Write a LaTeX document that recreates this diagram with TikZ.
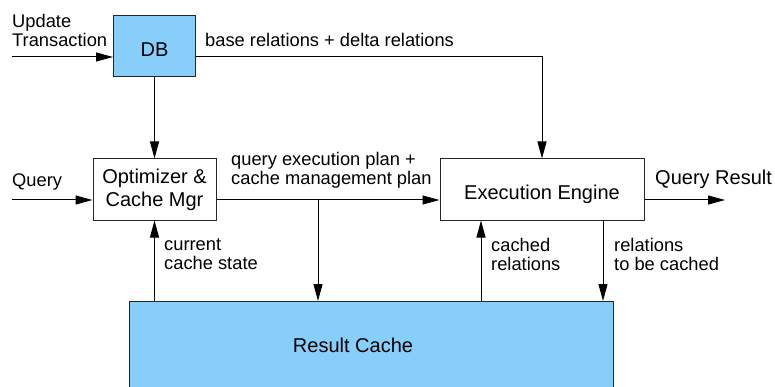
\documentclass[tikz,border=0pt]{standalone}
\usepackage{fontspec}
\setmainfont{Liberation Sans}
\usetikzlibrary{arrows.meta}
\definecolor{boxblue}{RGB}{135,206,250}
\begin{document}
\begin{tikzpicture}[x=1pt,y=-1pt,
  box/.style={draw=black!85, line width=1pt, inner sep=0pt, align=center,
    font=\fontsize{20}{23}\selectfont},
  lbl/.style={inner sep=0pt, anchor=north west, align=left,
    font=\fontsize{18.3}{19.5}\selectfont},
  conn/.style={line width=1pt, -{Triangle[length=17pt,width=9pt]}}]
\useasboundingbox (0,0) rectangle (775,387);
% boxes
\node[box, fill=boxblue, minimum width=82pt, minimum height=61pt] (db) at (154.5,46.5) {};
\node[inner sep=0pt, font=\fontsize{20}{23}\selectfont, anchor=base] (dbtext) at (154.5,57) {DB};
\node[box, minimum width=123pt, minimum height=61pt] (opt) at (154.5,189.5) {Optimizer \&\\Cache Mgr};
\node[box, minimum width=204pt, minimum height=61pt] (ee) at (542,189.5) {};
\node[inner sep=0pt, font=\fontsize{20}{23}\selectfont, anchor=base] (eetext) at (542,200) {Execution Engine};
\node[box, fill=boxblue, minimum width=484pt, minimum height=100pt, anchor=north west] (rc) at (129,301) {};
\node[inner sep=0pt, font=\fontsize{20}{23}\selectfont, anchor=base] (rctext) at (353,352) {Result Cache};
% coordinates
\coordinate (ut) at (12,57);
\coordinate (q) at (12,200);
\coordinate (qr) at (725,200);
\coordinate (br) at (318,200);
\coordinate (cr) at (481,0);
\coordinate (tbc) at (603,0);
% connectors
\draw[conn] (ut) -- (ut -| db.west);
\draw[conn] (ut -| db.east) -| (ee.north);
\draw[conn] (db.south) -- (opt.north);
\draw[conn] (q) -- (q -| opt.west);
\draw[conn] (q -| opt.east) -- (q -| ee.west);
\draw[conn] (q -| ee.east) -- (qr);
\draw[conn] (br) -- (br |- rc.north);
\draw[conn] (rc.north -| opt.south) -- (opt.south);
\draw[conn] (rc.north -| cr) -- (ee.south -| cr);
\draw[conn] (ee.south -| tbc) -- (rc.north -| tbc);
% labels
\node[lbl] (lut) at (12,14) {Update\\Transaction};
\node[lbl, anchor=base west] (lbase) at (205,47) {base relations + delta relations};
\node[lbl] (lqep) at (231,152) {query execution plan +\\cache management plan};
\node[lbl, anchor=base west] (lq) at (12,187) {Query};
\node[inner sep=0pt, anchor=base west, font=\fontsize{20}{23}\selectfont] (lqr) at (655,185) {Query Result};
\node[lbl] (lcs) at (164,238) {current\\cache state};
\node[lbl] (lcr) at (491,238) {cached\\relations};
\node[lbl] (ltbc) at (614,238) {relations\\to be cached};
\end{tikzpicture}
\end{document}
